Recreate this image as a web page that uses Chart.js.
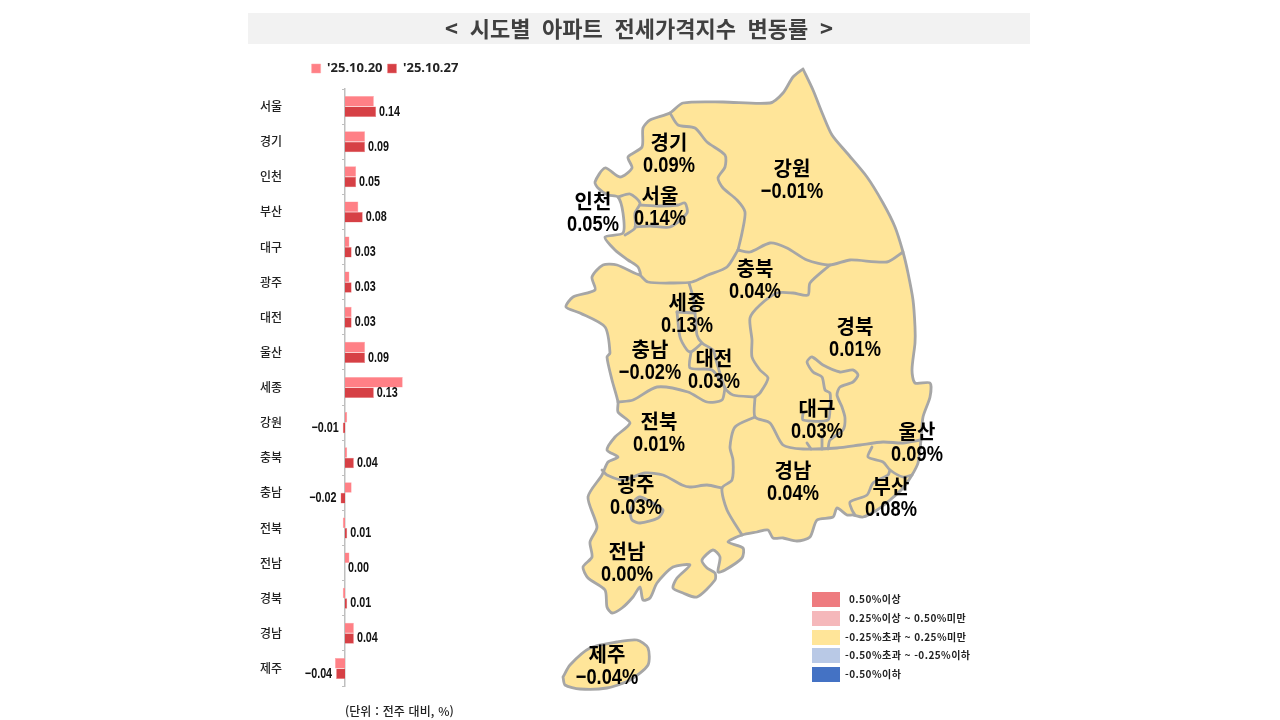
<!DOCTYPE html>
<html lang="ko">
<head>
<meta charset="utf-8">
<title>시도별 아파트 전세가격지수 변동률</title>
<script src="https://cdn.jsdelivr.net/npm/chart.js@4"></script>
<style>
    html, body { margin: 0; padding: 0; background: #fff; overflow: hidden; }
    body { width: 1280px; height: 720px; position: relative; font-family: "Noto Sans CJK KR", sans-serif; }
    canvas { position: absolute; }
    #mapChart { left: 0; top: 0; }
    #barChart { left: 248px; top: 57px; }
    .title {
        position: absolute; left: 248px; top: 13px; width: 782px; height: 31px; line-height: 29px;
        background: #f2f2f2; color: #404040; text-align: center;
        font-size: 22px; font-weight: 700; word-spacing: 5.5px; white-space: pre;
    }
    .unit { position: absolute; left: 345px; top: 702px; font-size: 12px; line-height: 18px; font-weight: 500; color: #222; word-spacing: 0.5px; white-space: pre; }
    .swatch { position: absolute; left: 812px; width: 28px; height: 15px; }
    .swatch-text { position: absolute; font-size: 10px; line-height: 14px; font-weight: 700; letter-spacing: 0.45px; color: #222; white-space: pre; }
</style>
</head>
<body>
<canvas id="mapChart" width="1280" height="720"></canvas>
<canvas id="barChart" width="274" height="633"></canvas>
<div class="title">&lt; 시도별 아파트 전세가격지수 변동률 &gt;</div>
<div class="unit">(단위 : 전주 대비, %)</div>
<div id="scaleLegend"></div>
<script>
// Chart data
const categories = ['서울', '경기', '인천', '부산', '대구', '광주', '대전', '울산', '세종', '강원', '충북', '충남', '전북', '전남', '경북', '경남', '제주'];
const prevWeek = [0.13, 0.09, 0.05, 0.06, 0.02, 0.02, 0.03, 0.09, 0.26, 0.01, 0.01, 0.03, -0.01, 0.02, -0.01, 0.04, -0.045];
const thisWeek = [0.14, 0.09, 0.05, 0.08, 0.03, 0.03, 0.03, 0.09, 0.13, -0.01, 0.04, -0.02, 0.01, 0.00, 0.01, 0.04, -0.04];
const seriesNames = ["'25.10.20", "'25.10.27"];

// Map label anchors, same order as categories (map coordinates)
const labelX = [660, 669, 593, 891, 817, 636, 714, 917, 687, 792, 755, 650, 659, 627, 855, 793, 607];
const labelY = [195, 142, 201, 486, 408, 484, 358, 431, 302, 168, 268, 349, 421, 551, 326, 470, 654];

// Map outlines (map coordinates)
const mainland = [[803,69],[813,90],[823,115],[832,135],[847,153],[867,177],[883,203],[895,227],[903,252],[908,273],[913,300],[915,327],[915,343],[912,370],[915,383],[930,383],[930,397],[923,417],[921,440],[918,463],[912,475],[903,488],[890,500],[877,510],[863,517],[853,515],[847,515],[837,508],[833,517],[817,520],[810,537],[797,541],[783,538],[773,538],[768,530],[757,532],[742,535],[728,542],[743,548],[742,558],[725,570],[718,572],[720,557],[713,550],[702,560],[707,568],[715,573],[715,580],[697,597],[683,593],[673,588],[677,578],[690,565],[673,567],[657,583],[650,598],[643,600],[640,587],[633,597],[622,608],[612,613],[607,607],[605,590],[588,578],[583,567],[592,557],[590,542],[597,527],[588,497],[602,475],[608,462],[618,457],[607,450],[615,437],[630,423],[618,412],[618,402],[612,380],[607,357],[610,353],[605,327],[580,313],[566,307],[573,297],[595,290],[592,277],[603,265],[617,265],[640,275],[638,267],[628,260],[615,250],[605,237],[623,233],[623,213],[618,197],[608,195],[598,188],[595,182],[605,168],[620,177],[632,168],[628,157],[642,147],[643,128],[650,120],[670,113],[683,103],[723,102],[770,103],[783,93],[793,77],[803,69]];
const jeju = [[563,677],[570,665],[590,648],[617,642],[637,640],[648,648],[648,665],[630,680],[607,688],[580,689],[565,685],[563,677]];

const gangwonWest = [[670,113],[678,125],[695,128],[707,142],[725,155],[725,167],[718,178],[723,188],[737,200],[745,212],[742,233],[738,250]];
const gyeonggiSouth = [[738,250],[727,267],[708,275],[692,282],[673,283],[648,282],[640,275]];
const gangwonSouth = [[738,250],[750,252],[770,243],[787,248],[807,260],[830,265],[850,260],[887,262],[903,252]];
const chungbukEast = [[830,265],[810,283],[808,295],[793,293],[777,293],[760,305],[750,318],[752,340],[752,357],[760,370],[768,378],[760,393],[755,397]];
const chungbukSouth = [[689,283],[693,297],[695,313],[697,335],[702,343],[713,350],[716,360],[725,388],[733,395],[755,397]];
const jeonbukNorth = [[618,402],[633,400],[657,387],[688,392],[707,402],[722,400],[725,388]];
const sejong = [[677,312],[680,337],[687,350],[691,352],[702,343]];
const sejongTop = [[677,312],[695,313]];
const daejeon = [[691,352],[690,368],[712,370],[725,388]];
const gyeongbukSouth = [[755,397],[755,417],[770,423],[783,445],[803,449],[837,448],[860,445],[883,442],[903,443],[921,440]];
const jeonnamNorth = [[602,470],[607,475],[623,480],[645,473],[663,475],[682,485],[690,487],[707,485],[722,488]];
const gyeongnamWest = [[755,417],[735,427],[730,447],[733,460],[732,480],[722,488],[727,510],[742,535]];
const ulsanSouth = [[872,447],[868,457],[883,462],[890,470],[903,477],[912,475]];
const busanWest = [[890,470],[888,475],[873,483],[867,495],[850,502],[852,510],[855,515]];
const daegu = [[828,449],[830,440],[843,430],[845,418],[842,407],[837,395],[840,387],[853,382],[858,375],[853,370],[840,372],[823,365],[812,357],[807,362],[813,372],[822,377],[825,390],[830,393],[830,407],[828,420],[803,420],[803,413]];
const daeguSouth = [[807,443],[811,449]];
const daeguMid = [[822,437],[822,449]];
const gwangju = [[630,512],[635,500],[640,497],[653,503],[663,510],[658,518],[640,523],[632,520],[630,512]];
const incheon = [[618,197],[630,194],[640,203],[635,213],[635,228],[625,235]];
const seoul = [[640,205],[660,206],[678,205],[685,203],[687,213],[670,227],[650,226],[635,227]];

const boundaries = [gangwonWest, gyeonggiSouth, gangwonSouth, chungbukEast, chungbukSouth, jeonbukNorth, sejong, sejongTop, daejeon, gyeongbukSouth, jeonnamNorth, gyeongnamWest, ulsanSouth, busanWest, daegu, daeguSouth, daeguMid, gwangju, incheon, seoul];

// Colour scale legend
const scaleLabels = ['0.50%이상', '0.25%이상 ~ 0.50%미만', '-0.25%초과 ~ 0.25%미만', '-0.50%초과 ~ -0.25%이하', '-0.50%이하'];
const scaleColors = ['#ee7b7f', '#f5b8bb', '#ffe599', '#b9c9e6', '#4472c4'];
const scaleTops = [592, 611, 630, 648, 667];

const LIGHT_RED = '#ff8086';
const DARK_RED = '#d64045';
const MAP_FILL = '#ffe599';
const MAP_LINE = '#a6a6a6';

function formatValue(v) {
    return v.toFixed(2).replace('-', '\u2212');
}

function toPoints(list) {
    return list.map(p => ({ x: p[0], y: p[1] }));
}

// No narrow font is installed, so squeeze Liberation Sans sideways
function narrowText(ctx, text, x, y, squeeze) {
    ctx.save();
    ctx.translate(x, y);
    ctx.scale(squeeze, 1);
    ctx.fillText(text, 0, 0);
    ctx.restore();
}

function mapDataset(list, filled) {
    return {
        data: toPoints(list),
        showLine: true,
        borderColor: MAP_LINE,
        borderWidth: 2.8,
        borderJoinStyle: 'round',
        borderCapStyle: 'round',
        tension: 0.25,
        pointRadius: 0,
        mapFill: filled ? MAP_FILL : null
    };
}

// Fills the closed outlines and writes the region labels
const mapPaint = {
    id: 'mapPaint',
    beforeDatasetsDraw(chart) {
        const ctx = chart.ctx;
        chart.data.datasets.forEach((ds, i) => {
            if (!ds.mapFill) return;
            const line = chart.getDatasetMeta(i).dataset;
            line.updateControlPoints(chart.chartArea, 'x');
            ctx.save();
            ctx.beginPath();
            line.path(ctx);
            ctx.closePath();
            ctx.fillStyle = ds.mapFill;
            ctx.fill();
            ctx.restore();
        });
    },
    afterDatasetsDraw(chart) {
        const ctx = chart.ctx;
        const xs = chart.scales.x;
        const ys = chart.scales.y;
        ctx.save();
        ctx.textAlign = 'center';
        ctx.textBaseline = 'middle';
        ctx.fillStyle = '#000';
        categories.forEach((name, i) => {
            const px = xs.getPixelForValue(labelX[i]);
            const py = ys.getPixelForValue(labelY[i]);
            ctx.font = '700 20px "Noto Sans CJK KR"';
            ctx.fillText(name, px, py);
            ctx.font = '700 22px "Liberation Sans"';
            narrowText(ctx, formatValue(thisWeek[i]) + '%', px, py + 24, 0.83);
        });
        ctx.restore();
    }
};

// Writes the value next to each bar of the latest week
const barValues = {
    id: 'barValues',
    afterDatasetsDraw(chart) {
        const ctx = chart.ctx;
        const bars = chart.getDatasetMeta(1).data;
        ctx.save();
        ctx.font = '700 14px "Liberation Sans"';
        ctx.fillStyle = '#111';
        ctx.textBaseline = 'middle';
        bars.forEach((bar, i) => {
            const negative = thisWeek[i] < 0;
            ctx.textAlign = negative ? 'right' : 'left';
            narrowText(ctx, formatValue(thisWeek[i]), bar.x + (negative ? -4 : 3), bar.y, 0.77);
        });
        ctx.restore();
    }
};

// Leaves room between the legend and the plot
const legendGap = {
    id: 'legendGap',
    beforeInit(chart) {
        const fit = chart.legend.fit;
        chart.legend.fit = function() {
            fit.call(this);
            this.height += 4;
        };
    }
};

function drawMap() {
    const datasets = [mapDataset(mainland, true), mapDataset(jeju, true)];
    boundaries.forEach(b => datasets.push(mapDataset(b, false)));
    new Chart(document.getElementById('mapChart').getContext('2d'), {
        type: 'scatter',
        data: { datasets: datasets },
        plugins: [mapPaint],
        options: {
            responsive: false,
            animation: false,
            layout: { padding: 0 },
            plugins: { legend: { display: false }, tooltip: { enabled: false } },
            scales: {
                x: { type: 'linear', display: false, min: 0, max: 1280 },
                y: { type: 'linear', display: false, min: 0, max: 720, reverse: true }
            }
        }
    });
}

function drawBars() {
    new Chart(document.getElementById('barChart').getContext('2d'), {
        type: 'bar',
        data: {
            labels: categories,
            datasets: [
                { label: seriesNames[0], data: prevWeek, backgroundColor: LIGHT_RED, borderColor: '#ffa3a7', borderWidth: 0.5, clip: false },
                { label: seriesNames[1], data: thisWeek, backgroundColor: DARK_RED, borderColor: '#ee8a8d', borderWidth: 0.5, clip: false }
            ]
        },
        plugins: [legendGap, barValues],
        options: {
            indexAxis: 'y',
            responsive: false,
            animation: false,
            layout: { padding: { bottom: 4 } },
            datasets: { bar: { categoryPercentage: 0.6, barPercentage: 1 } },
            plugins: {
                tooltip: { enabled: false },
                legend: {
                    position: 'top',
                    labels: {
                        boxWidth: 9,
                        boxHeight: 9,
                        padding: 5,
                        color: '#222',
                        font: { family: '"Noto Sans"', size: 13, weight: '700' }
                    }
                }
            },
            scales: {
                // Negative bars run left of the axis, past the plot area
                x: { type: 'linear', display: false, min: 0, max: 0.797 },
                y: {
                    position: 'left',
                    afterFit(scale) {
                        scale.width = 97;
                        scale.paddingTop = 0;
                        scale.paddingBottom = 0;
                    },
                    grid: { drawOnChartArea: false, tickLength: 3, tickColor: '#bfbfbf', tickWidth: 1 },
                    border: { color: '#bfbfbf', width: 1.5 },
                    ticks: {
                        padding: 60,
                        autoSkip: false,
                        color: '#222',
                        font: { family: '"Noto Sans CJK KR"', size: 12, weight: '500' }
                    }
                }
            }
        }
    });
}

function drawScaleLegend() {
    const holder = document.getElementById('scaleLegend');
    scaleLabels.forEach((label, i) => {
        const box = document.createElement('div');
        box.className = 'swatch';
        box.style.top = scaleTops[i] + 'px';
        box.style.background = scaleColors[i];
        holder.appendChild(box);
        const text = document.createElement('div');
        text.className = 'swatch-text';
        text.style.top = scaleTops[i] + 'px';
        text.style.left = (label.charAt(0) === '-' ? 845 : 849) + 'px';
        text.textContent = label;
        holder.appendChild(text);
    });
}

drawMap();
drawBars();
drawScaleLegend();
</script>
</body>
</html>
